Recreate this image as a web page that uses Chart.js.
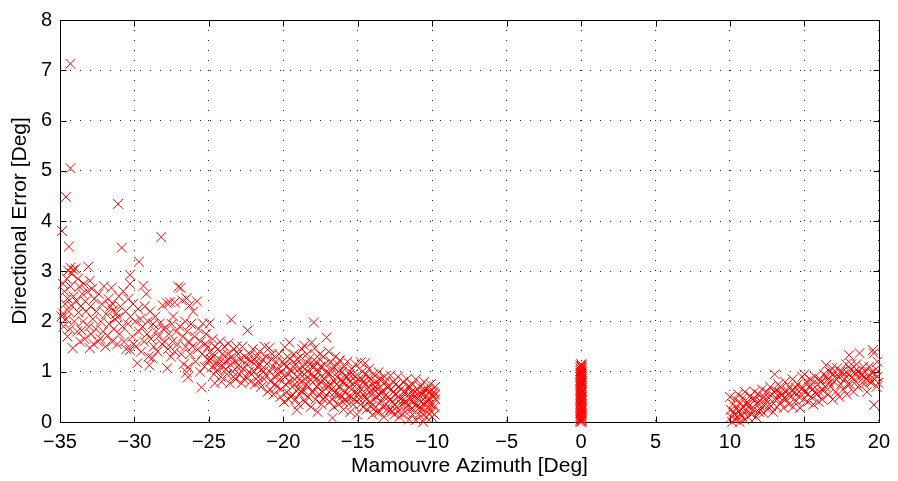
<!DOCTYPE html>
<html>
<head>
<meta charset="utf-8">
<script src="https://cdn.jsdelivr.net/npm/chart.js@4.4.0/dist/chart.umd.min.js"></script>
<style>
  html, body { margin: 0; padding: 0; background: #fff; }
  #wrap { width: 898px; height: 481px; }
</style>
</head>
<body>
<div id="wrap"><canvas id="chart" width="898" height="481"></canvas></div>
<script>
const X_MIN = -35, X_MAX = 20, X_STEP = 5;
const Y_MIN = 0, Y_MAX = 8, Y_STEP = 1;
const X_TITLE = 'Mamouvre Azimuth [Deg]';
const Y_TITLE = 'Directional Error [Deg]';
const MARK_COLOR = '#ff0000';
const FONT = '"Liberation Sans", Arial, Helvetica, sans-serif';

// [azimuth, error] pairs, negative sweep
const negSweep = [
  [-34.9,2.1],[-34.87,3.8],[-34.8,2.75],[-34.8,2.16],[-34.75,1.9],[-34.7,2.6],[-34.65,2.35],[-34.6,4.48],[-34.6,2.05],[-34.55,2.85],[-34.5,2.46],[-34.5,1.7],
  [-34.45,3.01],[-34.4,3.49],[-34.4,2.2],[-34.35,1.85],[-34.3,7.13],[-34.3,5.05],[-34.3,3.07],[-34.3,2.7],[-34.25,2.32],[-34.2,2.95],[-34.15,1.47],[-34.1,3.03],[-34.1,2.5],[-34.05,2.0],
  [-33.95,3.05],[-33.9,2.4],[-33.85,1.8],[-33.8,2.85],[-33.75,2.18],[-33.7,2.69],[-33.65,1.6],[-33.6,2.3],[-33.55,1.82],[-33.5,2.55],
  [-33.45,2.0],[-33.4,2.75],[-33.35,1.65],[-33.3,2.4],[-33.25,2.2],[-33.15,2.6],[-33.1,3.09],[-33.05,1.9],[-33.0,1.47],[-33.0,2.81],
  [-32.95,2.3],[-32.9,1.75],[-32.85,2.65],[-32.8,2.05],[-32.75,1.55],[-32.7,2.45],[-32.6,1.85],[-32.55,2.2],
  [-32.45,1.6],[-32.4,2.55],[-32.3,1.66],[-32.25,2.0],[-32.2,2.35],[-32.1,1.8],[-32.05,2.7],
  [-31.95,1.5],[-31.9,2.15],[-31.8,1.72],[-31.75,2.45],[-31.7,1.95],[-31.6,2.3],[-31.55,2.67],[-31.5,2.36],[-31.5,1.6],
  [-31.45,2.22],[-31.4,1.85],[-31.3,2.05],[-31.2,2.16],[-31.15,1.55],[-31.1,2.08],[-31.1,4.34],[-31.05,2.5],[-31.0,1.75],
  [-30.95,2.3],[-30.85,3.47],[-30.8,1.9],[-30.75,2.6],[-30.7,1.6],[-30.6,2.2],[-30.55,1.45],
  [-30.45,1.95],[-30.4,2.45],[-30.3,2.93],[-30.3,2.75],[-30.3,1.43],[-30.25,2.1],[-30.15,1.7],[-30.1,2.35],[-30.05,1.55],
  [-29.95,2.0],[-29.9,1.5],[-29.8,1.17],[-29.75,2.25],[-29.7,3.19],[-29.7,1.8],[-29.6,2.05],[-29.55,1.4],
  [-29.45,1.9],[-29.4,2.71],[-29.35,1.6],[-29.3,2.3],[-29.2,2.55],[-29.15,1.75],[-29.1,2.0],[-29.05,1.3],[-29.0,1.13],
  [-28.95,2.2],[-28.9,1.65],[-28.8,1.27],[-28.75,1.95],[-28.7,1.5],[-28.6,2.1],[-28.55,1.8],
  [-28.45,1.4],[-28.4,1.7],[-28.3,1.96],[-28.2,3.68],[-28.15,1.55],[-28.1,2.32],[-28.05,1.85],
  [-27.95,1.6],[-27.9,1.88],[-27.8,1.07],[-27.8,2.36],[-27.75,1.45],[-27.7,1.75],[-27.6,2.38],[-27.55,1.3],[-27.5,1.95],
  [-27.45,1.6],[-27.4,2.1],[-27.3,2.38],[-27.3,1.4],[-27.2,1.8],[-27.1,1.55],[-27.05,2.69],
  [-26.95,1.9],[-26.9,2.67],[-26.85,1.35],[-26.8,2.42],[-26.75,1.7],[-26.7,1.15],[-26.6,2.0],[-26.55,1.5],[-26.5,2.46],[-26.5,0.99],
  [-26.45,1.8],[-26.4,1.09],[-26.4,0.89],[-26.35,1.6],[-26.3,2.32],[-26.25,1.35],[-26.2,1.95],[-26.1,1.5],[-26.05,2.2],
  [-25.95,1.7],[-25.9,1.2],[-25.8,2.4],[-25.75,1.45],[-25.7,1.85],[-25.6,1.0],[-25.55,1.6],[-25.5,0.69],
  [-25.45,1.35],[-25.4,1.96],[-25.3,1.1],[-25.25,1.55],[-25.2,1.75],[-25.1,1.25],[-25.05,1.5],[-25.0,1.23],
  [-24.95,1.96],[-24.9,1.4],[-24.85,1.25],[-24.8,1.09],[-24.75,1.65],[-24.7,1.3],[-24.65,0.95],[-24.6,0.77],[-24.6,1.5],[-24.5,1.15],
  [-24.45,1.03],[-24.4,1.45],[-24.35,1.15],[-24.3,1.25],[-24.25,1.6],[-24.2,0.9],[-24.15,0.8],[-24.1,1.35],[-24.05,1.1],
  [-23.95,1.5],[-23.9,1.2],[-23.85,1.05],[-23.8,0.95],[-23.75,1.35],[-23.7,1.56],[-23.65,1.25],[-23.6,0.77],[-23.55,1.15],[-23.5,2.04],
  [-23.45,1.3],[-23.4,1.0],[-23.35,0.9],[-23.3,1.45],[-23.25,1.2],[-23.2,0.85],[-23.15,1.5],[-23.1,1.1],[-23.05,1.35],
  [-22.95,0.95],[-22.9,1.25],[-22.85,1.1],[-22.8,0.77],[-22.75,1.5],[-22.7,1.05],[-22.65,0.85],[-22.6,1.3],[-22.5,0.9],
  [-22.45,1.15],[-22.4,1.82],[-22.35,1.25],[-22.3,1.0],[-22.25,1.35],[-22.2,0.8],[-22.15,0.95],[-22.1,1.2],[-22.05,1.45],
  [-21.95,1.0],[-21.9,0.75],[-21.85,1.2],[-21.8,1.3],[-21.75,1.1],[-21.7,0.9],[-21.65,0.8],[-21.6,1.4],[-21.55,1.15],[-21.5,0.7],
  [-21.45,1.05],[-21.4,1.25],[-21.35,1.0],[-21.3,0.85],[-21.25,1.5],[-21.2,0.95],[-21.15,1.3],[-21.1,1.15],[-21.05,0.6],
  [-20.95,1.47],[-20.9,1.0],[-20.9,0.65],[-20.85,0.8],[-20.8,1.25],[-20.75,1.35],[-20.7,1.1],[-20.65,0.55],[-20.6,0.9],[-20.55,0.75],[-20.5,1.2],
  [-20.45,0.7],[-20.4,1.05],[-20.35,0.95],[-20.3,1.35],[-20.25,0.85],[-20.2,0.5],[-20.15,0.65],[-20.1,1.0],[-20.05,1.2],
  [-19.98,1.15],[-19.95,0.4],[-19.9,1.49],[-19.88,0.9],[-19.85,0.75],[-19.8,1.1],[-19.75,0.6],[-19.72,1.3],[-19.7,0.95],[-19.65,0.45],[-19.6,1.58],[-19.6,0.8],[-19.55,1.25],[-19.52,1.05],[-19.5,0.5],
  [-19.45,1.0],[-19.4,0.7],[-19.38,0.55],[-19.33,1.1],[-19.3,1.35],[-19.25,0.85],[-19.22,0.75],[-19.2,0.45],[-19.15,1.15],[-19.1,0.24],[-19.08,1.25],[-19.05,0.9],[-19.0,0.65],
  [-18.98,0.35],[-18.95,1.05],[-18.9,0.55],[-18.88,0.95],[-18.85,1.3],[-18.8,0.8],[-18.78,0.6],[-18.75,1.45],[-18.7,0.65],[-18.68,1.1],[-18.6,1.52],[-18.6,0.95],[-18.55,0.4],[-18.52,0.85],[-18.5,1.15],
  [-18.45,0.75],[-18.42,1.35],[-18.4,1.0],[-18.35,0.5],[-18.32,0.7],[-18.3,1.25],[-18.22,1.15],[-18.2,0.85],[-18.15,0.3],[-18.12,0.95],[-18.1,1.58],[-18.1,0.6],[-18.05,1.1],
  [-17.98,0.6],[-17.95,1.98],[-17.92,1.1],[-17.9,1.47],[-17.9,0.9],[-17.85,0.45],[-17.82,0.85],[-17.8,1.2],[-17.75,0.7],[-17.72,1.3],[-17.7,0.2],[-17.65,1.0],[-17.62,0.75],[-17.6,0.55],[-17.55,1.35],[-17.52,1.1],[-17.5,0.8],
  [-17.45,0.35],[-17.42,0.9],[-17.4,1.1],[-17.35,0.6],[-17.32,0.45],[-17.3,1.3],[-17.25,0.85],[-17.22,1.15],[-17.2,0.5],[-17.12,0.75],[-17.1,1.68],[-17.1,1.0],[-17.05,0.7],[-17.02,0.95],
  [-16.95,1.4],[-16.92,0.6],[-16.9,0.4],[-16.85,0.95],[-16.82,0.75],[-16.8,1.2],[-16.75,0.65],[-16.72,0.45],[-16.7,0.08],[-16.7,1.05],[-16.62,1.1],[-16.6,0.3],[-16.55,0.8],[-16.52,0.6],[-16.5,1.3],
  [-16.45,0.55],[-16.42,0.75],[-16.4,0.9],[-16.35,1.15],[-16.32,1.0],[-16.3,0.35],[-16.25,0.7],[-16.22,0.55],[-16.2,1.23],[-16.12,0.85],[-16.1,0.5],[-16.05,1.0],[-16.02,0.4],[-16.0,0.8],
  [-15.95,0.25],[-15.92,0.75],[-15.9,1.1],[-15.85,0.6],[-15.82,0.45],[-15.8,0.9],[-15.75,0.4],[-15.72,0.9],[-15.7,1.2],[-15.62,0.5],[-15.6,0.7],[-15.55,0.95],[-15.52,0.8],[-15.5,0.2],
  [-15.45,0.5],[-15.42,0.65],[-15.4,1.05],[-15.35,0.75],[-15.32,0.95],[-15.3,0.35],[-15.22,0.45],[-15.2,0.9],[-15.15,1.15],[-15.12,0.8],[-15.1,0.6],[-15.05,0.15],[-15.02,0.55],
  [-14.95,0.85],[-14.92,0.7],[-14.9,0.45],[-14.82,0.35],[-14.8,1.19],[-14.75,0.65],[-14.72,0.85],[-14.7,1.0],[-14.65,0.3],[-14.62,0.55],[-14.6,0.8],[-14.52,0.75],[-14.5,1.17],[-14.5,0.5],
  [-14.45,0.95],[-14.42,0.45],[-14.4,0.25],[-14.32,0.9],[-14.3,0.7],[-14.25,1.05],[-14.22,0.6],[-14.2,0.4],[-14.12,0.3],[-14.1,0.85],[-14.05,0.55],[-14.02,0.75],[-14.0,0.15],
  [-13.95,0.95],[-13.92,0.45],[-13.9,0.65],[-13.82,0.7],[-13.8,0.3],[-13.75,0.8],[-13.72,0.2],[-13.7,0.5],[-13.62,0.55],[-13.6,0.99],[-13.55,0.2],[-13.52,0.85],[-13.5,0.7],
  [-13.45,0.4],[-13.42,0.6],[-13.4,0.85],[-13.32,0.3],[-13.3,0.6],[-13.25,0.1],[-13.22,0.5],[-13.2,0.9],[-13.12,0.8],[-13.1,0.35],[-13.05,0.7],[-13.02,0.25],
  [-12.95,0.5],[-12.92,0.7],[-12.82,0.45],[-12.8,0.93],[-12.8,0.25],[-12.75,0.65],[-12.72,0.2],[-12.7,0.4],[-12.62,0.6],[-12.6,0.8],[-12.55,0.15],[-12.52,0.35],[-12.5,0.55],
  [-12.45,0.75],[-12.42,0.55],[-12.4,0.3],[-12.32,0.2],[-12.3,0.9],[-12.25,0.5],[-12.22,0.7],[-12.2,0.1],[-12.12,0.45],[-12.1,0.65],[-12.05,0.35],[-12.02,0.15],
  [-11.95,0.8],[-11.92,0.6],[-11.9,0.45],[-11.82,0.4],[-11.8,0.2],[-11.75,0.6],[-11.72,0.3],[-11.7,0.85],[-11.62,0.7],[-11.6,0.35],[-11.55,0.05],[-11.52,0.45],[-11.5,0.7],
  [-11.45,0.5],[-11.42,0.6],[-11.4,0.25],[-11.32,0.15],[-11.3,0.75],[-11.25,0.4],[-11.22,0.5],[-11.2,0.6],[-11.12,0.35],[-11.1,0.04],[-11.1,0.85],[-11.05,0.3],[-11.02,0.65],
  [-10.95,0.55],[-10.92,0.45],[-10.9,0.15],[-10.82,0.3],[-10.8,0.7],[-10.75,0.4],[-10.72,0.55],[-10.7,0.25],[-10.62,0.15],[-10.6,0.0],[-10.6,0.6],[-10.55,0.8],[-10.52,0.65],[-10.5,0.35],
  [-10.45,0.5],[-10.42,0.4],[-10.4,0.1],[-10.32,0.2],[-10.3,0.65],[-10.25,0.3],[-10.22,0.6],[-10.2,0.45],[-10.12,0.35],[-10.1,0.75],[-10.05,0.2],[-10.02,0.1],[-10.0,0.55],
  [-9.95,0.35],[-9.92,0.5],[-9.9,0.6],[-9.85,0.15],[-9.85,0.3],[-9.82,0.55],[-9.8,0.45],[-9.8,0.7]
];

// errors logged while holding azimuth at zero
const zeroHold = [
  [-0.05,0.0],[0.05,0.01],[0,0.02],[-0.05,0.04],[0.05,0.05],[0,0.06],[-0.05,0.08],[0.05,0.09],[0,0.11],[-0.05,0.12],
  [0.05,0.14],[0,0.15],[-0.05,0.17],[0.05,0.18],[0,0.2],[-0.05,0.21],[0.05,0.23],[0,0.24],[-0.05,0.26],[0.05,0.27],
  [0,0.29],[-0.05,0.3],[0.05,0.32],[0,0.33],[-0.05,0.35],[0.05,0.36],[0,0.38],[-0.05,0.39],[0.05,0.41],[0,0.42],
  [-0.05,0.44],[0.05,0.45],[0,0.47],[-0.05,0.48],[0.05,0.5],[0,0.51],[-0.05,0.53],[0.05,0.54],[0,0.56],[-0.05,0.57],
  [0.05,0.59],[0,0.6],[-0.05,0.62],[0.05,0.63],[0,0.65],[-0.05,0.66],[0.05,0.68],[0,0.69],[-0.05,0.71],[0.05,0.72],
  [0,0.74],[-0.05,0.75],[0.05,0.77],[0,0.78],[-0.05,0.8],[0.05,0.81],[0,0.83],[-0.05,0.84],[0.05,0.86],[0,0.87],
  [-0.05,0.89],[0.05,0.9],[0,0.92],[-0.05,0.93],[0.05,0.95],[0,0.96],[-0.05,0.98],[0.05,0.99],[0,1.01],[-0.05,1.02],
  [0.05,1.04],[0,1.05],[-0.05,1.07],[0.05,1.08],[0,1.1],[-0.04,1.12],[0.04,1.13],[0,1.15]
];

// positive sweep
const posSweep = [
  [10.0,0.5],[10.05,0.24],[10.1,0.1],[10.15,0.0],[10.2,0.35],[10.25,0.2],[10.3,0.15],[10.35,0.45],[10.4,0.05],[10.45,0.28],[10.5,0.1],
  [10.55,0.55],[10.6,0.2],[10.65,0.0],[10.7,0.38],[10.75,0.25],[10.8,0.12],[10.85,0.48],[10.9,0.3],[10.95,0.05],
  [11.0,0.6],[11.05,0.22],[11.1,0.35],[11.15,0.4],[11.2,0.1],[11.3,0.32],[11.35,0.52],[11.4,0.25],[11.45,0.15],
  [11.5,0.45],[11.6,0.25],[11.65,0.6],[11.7,0.45],[11.75,0.1],[11.8,0.38],[11.9,0.55],[11.95,0.2],
  [12.0,0.42],[12.05,0.25],[12.1,0.3],[12.15,0.65],[12.25,0.18],[12.3,0.5],[12.35,0.45],[12.4,0.35],[12.45,0.6],
  [12.55,0.25],[12.6,0.48],[12.65,0.35],[12.7,0.7],[12.75,0.32],[12.85,0.55],[12.9,0.2],[12.95,0.6],[13.0,0.95],[13.0,0.45],
  [13.1,0.62],[13.15,0.3],[13.25,0.75],[13.3,0.5],[13.35,0.58],[13.4,0.38],[13.45,0.68],
  [13.55,0.55],[13.6,0.28],[13.65,0.48],[13.7,0.8],[13.75,0.45],[13.85,0.62],[13.9,0.55],[13.95,0.35],
  [14.0,0.7],[14.1,0.5],[14.15,0.62],[14.2,0.85],[14.25,0.3],[14.35,0.6],[14.4,0.68],[14.45,0.42],
  [14.55,0.75],[14.6,0.5],[14.65,0.6],[14.7,0.28],[14.8,0.65],[14.85,0.9],[14.9,0.68],[14.95,0.45],
  [15.0,0.95],[15.1,0.6],[15.15,0.8],[15.2,0.55],[15.25,0.4],[15.3,0.7],[15.4,0.85],[15.45,0.5],
  [15.5,0.75],[15.55,0.65],[15.6,0.35],[15.7,0.9],[15.75,0.6],[15.8,0.55],[15.9,0.75],[15.95,0.4],
  [16.0,0.6],[16.05,0.85],[16.1,0.8],[16.2,0.45],[16.25,0.62],[16.3,0.95],[16.4,0.7],[16.45,1.13],
  [16.5,0.9],[16.55,0.85],[16.6,0.55],[16.65,0.78],[16.7,1.0],[16.75,0.7],[16.85,1.07],[16.9,0.45],[16.95,0.95],
  [17.0,0.8],[17.1,0.6],[17.15,0.85],[17.2,1.07],[17.3,0.9],[17.35,0.5],[17.4,1.0],[17.45,0.75],
  [17.55,1.0],[17.6,0.65],[17.65,0.95],[17.7,0.85],[17.8,1.15],[17.85,0.55],[17.9,0.75],[17.95,0.95],
  [18.0,1.33],[18.05,0.75],[18.1,1.05],[18.15,1.15],[18.2,0.9],[18.3,0.6],[18.35,1.0],[18.4,0.95],[18.45,0.8],
  [18.5,1.15],[18.6,0.7],[18.65,1.0],[18.7,1.37],[18.75,0.95],[18.85,0.85],[18.9,0.95],[18.95,1.1],
  [19.0,0.75],[19.1,1.0],[19.15,0.85],[19.2,0.6],[19.3,0.9],[19.35,1.1],[19.4,0.8],[19.5,0.99],[19.55,0.8],
  [19.6,1.43],[19.65,1.37],[19.67,0.34],[19.7,0.85],[19.75,0.95],[19.8,1.05],[19.85,0.7],[19.9,0.9],[19.9,1.2],[19.95,0.78]
];

const toPts = arr => arr.map(([x, y]) => ({ x, y }));
const minus = v => String(v).replace('-', '\u2212');

// frame round the plot plus inward tick marks on all four sides
const axesFrame = {
  id: 'axesFrame',
  beforeDatasetsDraw(chart) {
    const { ctx, chartArea: a, scales: { x, y } } = chart;
    const len = 6;
    const L = Math.round(a.left) + 0.5, R = Math.round(a.right) + 0.5;
    const T = Math.round(a.top) + 0.5, B = Math.round(a.bottom) + 0.5;
    ctx.save();
    ctx.strokeStyle = '#000';
    ctx.lineWidth = 1;
    ctx.strokeRect(L, T, R - L, B - T);
    ctx.beginPath();
    x.ticks.forEach(t => {
      const px = Math.round(x.getPixelForValue(t.value)) + 0.5;
      ctx.moveTo(px, B); ctx.lineTo(px, B - len);
      ctx.moveTo(px, T); ctx.lineTo(px, T + len);
    });
    y.ticks.forEach(t => {
      const py = Math.round(y.getPixelForValue(t.value)) + 0.5;
      ctx.moveTo(L, py); ctx.lineTo(L + len, py);
      ctx.moveTo(R, py); ctx.lineTo(R - len, py);
    });
    ctx.stroke();
    ctx.restore();
  }
};

const markStyle = {
  showLine: false,
  pointStyle: 'crossRot',
  pointRadius: 7,
  pointHoverRadius: 7,
  pointBorderWidth: 1,
  borderColor: MARK_COLOR,
  backgroundColor: MARK_COLOR,
  pointBorderColor: MARK_COLOR,
  pointBackgroundColor: MARK_COLOR,
  clip: false
};

const gridDots = { color: '#222', lineWidth: 1, drawTicks: false, borderDash: [1, 9] };

new Chart(document.getElementById('chart'), {
  type: 'scatter',
  data: {
    datasets: [
      { label: 'sweep-', data: toPts(negSweep), ...markStyle },
      { label: 'hold', data: toPts(zeroHold), ...markStyle },
      { label: 'sweep+', data: toPts(posSweep), ...markStyle }
    ]
  },
  options: {
    responsive: false,
    animation: false,
    devicePixelRatio: 1,
    events: [],
    layout: { padding: { left: 0, right: 16, top: 18, bottom: 0 } },
    plugins: { legend: { display: false }, tooltip: { enabled: false } },
    scales: {
      x: {
        type: 'linear', min: X_MIN, max: X_MAX,
        ticks: { stepSize: X_STEP, color: '#000', padding: 8, font: { family: FONT, size: 20 }, callback: minus },
        grid: gridDots,
        border: { display: false, dash: [1, 9] },
        title: { display: true, text: X_TITLE, color: '#000', font: { family: FONT, size: 21 }, padding: { top: 0, bottom: 2 } },
        afterFit(s) { s.height = 59; }
      },
      y: {
        type: 'linear', min: Y_MIN, max: Y_MAX,
        ticks: { stepSize: Y_STEP, color: '#000', padding: 8, font: { family: FONT, size: 20 } },
        grid: gridDots,
        border: { display: false, dash: [1, 9] },
        title: { display: true, text: Y_TITLE, color: '#000', font: { family: FONT, size: 21 }, padding: { top: 8, bottom: 0 } },
        afterFit(s) { s.width = 60; }
      }
    }
  },
  plugins: [axesFrame]
});
</script>
</body>
</html>
